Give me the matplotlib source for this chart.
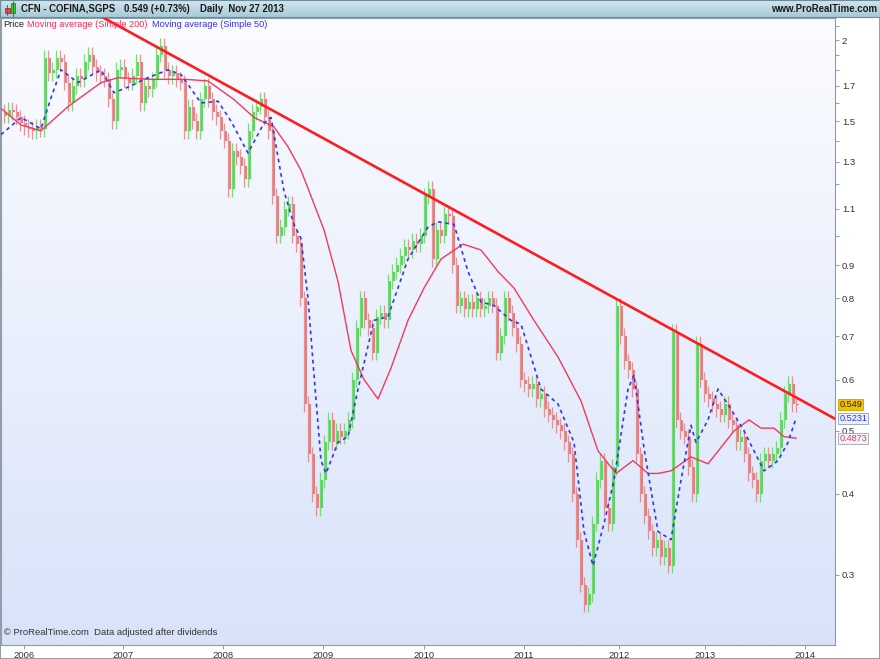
import numpy as np
import matplotlib
matplotlib.use("Agg")
import matplotlib.pyplot as plt
from matplotlib.colors import LinearSegmentedColormap
from matplotlib.patches import Rectangle
from matplotlib.ticker import FixedLocator, NullFormatter

plt.rcParams['font.family'] = ['Liberation Sans', 'DejaVu Sans']

# closing price, one sample every ~2 weeks (x = bar index)
close = [
    1.55, 1.53, 1.56, 1.55, 1.52, 1.49, 1.47, 1.46, 1.45, 1.47,
    1.46, 1.88, 1.78, 1.80, 1.88, 1.85, 1.72, 1.60, 1.70, 1.76,
    1.74, 1.85, 1.90, 1.82, 1.78, 1.76, 1.74, 1.62, 1.50, 1.80,
    1.82, 1.74, 1.72, 1.76, 1.85, 1.60, 1.70, 1.68, 1.74, 1.90,
    1.96, 1.80, 1.76, 1.78, 1.74, 1.72, 1.45, 1.58, 1.50, 1.45,
    1.62, 1.70, 1.62, 1.55, 1.52, 1.45, 1.40, 1.18, 1.35, 1.32,
    1.28, 1.22, 1.45, 1.55, 1.58, 1.62, 1.52, 1.45, 1.15, 1.00,
    1.03, 1.10, 1.12, 1.00, 0.97, 0.80, 0.55, 0.46, 0.40, 0.38,
    0.42, 0.48, 0.52, 0.48, 0.50, 0.49, 0.50, 0.52, 0.60, 0.72,
    0.80, 0.74, 0.72, 0.66, 0.75, 0.76, 0.74, 0.85, 0.88, 0.90,
    0.93, 0.96, 0.95, 0.98, 0.97, 1.00, 1.15, 1.18, 0.92, 1.02,
    1.00, 1.08, 1.07, 0.90, 0.78, 0.80, 0.77, 0.79, 0.77, 0.80,
    0.77, 0.78, 0.80, 0.78, 0.66, 0.70, 0.80, 0.76, 0.72, 0.68,
    0.60, 0.59, 0.58, 0.59, 0.56, 0.57, 0.54, 0.53, 0.52, 0.51,
    0.50, 0.48, 0.46, 0.40, 0.34, 0.29, 0.27, 0.28, 0.36, 0.42,
    0.45, 0.38, 0.36, 0.44, 0.78, 0.70, 0.64, 0.62, 0.58, 0.46,
    0.40, 0.37, 0.35, 0.33, 0.34, 0.32, 0.33, 0.31, 0.71, 0.52,
    0.50, 0.49, 0.44, 0.40, 0.68, 0.60, 0.57, 0.56, 0.55, 0.54,
    0.53, 0.55, 0.52, 0.51, 0.48, 0.49, 0.46, 0.43, 0.42, 0.40,
    0.45, 0.46, 0.45, 0.46, 0.47, 0.52, 0.57, 0.59, 0.55, 0.549,
]

# moving averages (bar index, value)
ma200_x = [0, 5, 10, 16.75, 25, 29.25, 37.5, 46.25, 51.75, 58.25, 63.25, 68.25,
           71.75, 75, 77.5, 80.75, 84.25, 87.5, 90.75, 94.25, 97.5, 101.75,
           105.75, 110, 115.5, 120, 124.25, 128.25, 133.25, 139.25, 145, 149.25,
           153.75, 158, 161.75, 164.25, 167.5, 172.5, 176.75, 183.25, 187, 190,
           193.25, 195.75, 198.75]
ma200_y = [1.57, 1.48, 1.45, 1.58, 1.72, 1.75, 1.74, 1.74, 1.73, 1.62, 1.52, 1.47,
           1.37, 1.26, 1.15, 1.02, 0.85, 0.665, 0.60, 0.56, 0.625, 0.74,
           0.83, 0.92, 0.97, 0.95, 0.88, 0.83, 0.74, 0.65, 0.556, 0.466,
           0.43, 0.45, 0.43, 0.43, 0.434, 0.456, 0.445, 0.50, 0.52, 0.505,
           0.505, 0.49, 0.4873]

ma50_x = [0, 5, 10, 12.5, 15, 19.25, 25, 28.25, 32.5, 35.75, 41.75, 45, 50,
          54.25, 57.5, 61.75, 65.75, 67.5, 70.75, 73.25, 75, 76.75, 78.25, 80,
          81.25, 84.25, 86.75, 89.25, 93.25, 96.75, 101.75, 106.75, 109.25,
          113.25, 116.75, 120, 123.25, 127.5, 130, 135, 139.25, 143.25, 145.75,
          148, 150.75, 153.25, 156.75, 158.25, 160.75, 164.25, 167.5, 170,
          172.5, 173.75, 176.75, 179.25, 182.5, 185.75, 190.75, 194.25, 196.75,
          198.75]
ma50_y = [1.43, 1.52, 1.46, 1.63, 1.80, 1.72, 1.80, 1.66, 1.70, 1.74, 1.80, 1.77, 1.60,
          1.61, 1.50, 1.34, 1.49, 1.52, 1.17, 1.04, 0.99, 0.80, 0.61, 0.45,
          0.43, 0.48, 0.49, 0.58, 0.74, 0.75, 0.92, 1.03, 1.05,
          1.04, 0.88, 0.79, 0.78, 0.74, 0.73, 0.58, 0.55, 0.48, 0.35,
          0.31, 0.36, 0.42, 0.58, 0.61, 0.47, 0.35, 0.34, 0.42,
          0.51, 0.48, 0.52, 0.58, 0.54, 0.50, 0.434, 0.45, 0.48,
          0.5231]

# resistance line endpoints (bar index, price)
trend_x = [20, 212]
trend_y = [2.262, 0.508]

year_pos = [5.75, 30.5, 55.5, 80.5, 105.75, 130.75, 154.5, 176, 201]
year_labels = ['2006', '2007', '2008', '2009', '2010', '2011', '2012', '2013', '2014']

major_ticks = [0.3, 0.4, 0.5, 0.6, 0.7, 0.8, 0.9, 1.1, 1.3, 1.5, 1.7, 2.0]
major_labels = ['0.3', '0.4', '0.5', '0.6', '0.7', '0.8', '0.9', '1.1', '1.3', '1.5', '1.7', '2']
minor_ticks = [1.0, 1.2, 1.4, 1.6, 1.8, 1.9, 2.1]

W, H = 880, 659
WICK = 1.028  # drawn wick length, multiplicative

fig = plt.figure(figsize=(W / 100, H / 100), dpi=100)

def frac(x0, y0, x1, y1):
    # pixel box (top-left origin) -> figure fraction rect
    return [x0 / W, 1 - y1 / H, (x1 - x0) / W, (y1 - y0) / H]

# plot area background gradient
bg = fig.add_axes(frac(1, 18, 835, 645), zorder=0)
bg.imshow(np.linspace(0, 1, 256).reshape(-1, 1), aspect='auto',
          cmap=LinearSegmentedColormap.from_list('bg', ['#fbfcff', '#d8e3fa']),
          extent=[0, 1, 0, 1])
bg.axis('off')

ax = fig.add_axes(frac(1, 18, 835, 645), zorder=1)
ax.set_facecolor('none')

x = np.arange(len(close))
c = np.array(close)
o = np.r_[c[0], c[:-1]]
lo = np.minimum(o, c)
hi = np.maximum(o, c)
cols = np.where(c >= o, '#52d152', '#e27474')
ax.vlines(x - 0.25, lo / WICK, hi * WICK, colors=cols, lw=0.9, alpha=0.75, zorder=2)
ax.vlines(x + 0.25, lo, hi, colors=cols, lw=1.3, zorder=2)

ax.plot(ma200_x, ma200_y, color='#f03a5f', lw=1.0, zorder=3)
ax.plot(ma50_x, ma50_y, color='#3535f0', lw=1.2, ls=(0, (2.2, 2.2)), zorder=3)
ax.plot(trend_x, trend_y, color='#ff1c1c', lw=1.9, zorder=4, solid_capstyle='butt')

ax.set_yscale('log')
ax.set_xlim(0, 208.5)
ax.set_ylim(0.234, 2.163)

ax.yaxis.tick_right()
ax.yaxis.set_major_locator(FixedLocator(major_ticks))
ax.set_yticklabels(major_labels)
ax.yaxis.set_minor_locator(FixedLocator(minor_ticks))
ax.yaxis.set_minor_formatter(NullFormatter())
ax.set_xticks(year_pos)
ax.set_xticklabels(year_labels)
ax.tick_params(axis='both', which='both', direction='out', length=3, width=0.6,
               color='#7d8d9c', labelsize=6.8, labelcolor='#333333', pad=2)
ax.tick_params(axis='x', pad=1.5)
for s in ax.spines.values():
    s.set_color('#8c9cab')
    s.set_linewidth(0.8)

# last value boxes
tr = ax.get_yaxis_transform()
box = dict(transform=tr, fontsize=6.6, va='center', ha='left', zorder=6, clip_on=False)
ax.text(1.005, 0.549, '0.549', color='#222222',
        bbox=dict(boxstyle='square,pad=0.12', fc='#f2c200', ec='#c9a000', lw=0.6), **box)
ax.text(1.005, 0.5231, '0.5231', color='#2b2bff',
        bbox=dict(boxstyle='square,pad=0.12', fc='#eef2ff', ec='#8f9fc8', lw=0.6), **box)
ax.text(1.005, 0.4873, '0.4873', color='#f03a5f',
        bbox=dict(boxstyle='square,pad=0.12', fc='#f6f3f8', ec='#9aa6b8', lw=0.6), **box)

ax.text(0.003, 0.012, '\u00a9 ProRealTime.com  Data adjusted after dividends',
        transform=ax.transAxes, fontsize=6.8, color='#333333', va='bottom', ha='left')

# header bar
hd = fig.add_axes(frac(0, 0, 880, 17), zorder=2)
hd.imshow(np.linspace(0, 1, 64).reshape(-1, 1), aspect='auto',
          cmap=LinearSegmentedColormap.from_list('hd', ['#d3e6ee', '#a8c9d8']),
          extent=[0, 880, 17, 0])
hd.set_xlim(0, 880)
hd.set_ylim(17, 0)
hd.set_xticks([])
hd.set_yticks([])
for s in hd.spines.values():
    s.set_color('#6f8c99')
    s.set_linewidth(0.8)
# small candle icon
hd.plot([7, 7], [5, 15], color='#b03030', lw=0.6)
hd.add_patch(Rectangle((5, 8), 4.5, 5, fc='#e05050', ec='#902020', lw=0.5))
hd.plot([12.5, 12.5], [1, 16], color='#208020', lw=0.6)
hd.add_patch(Rectangle((10.5, 3), 4.5, 10, fc='#40c040', ec='#1a701a', lw=0.5))
hfs = 6.9
hd.text(21, 8.7, 'CFN - COFINA,SGPS', fontsize=hfs, fontweight='bold', color='#1a1a1a', va='center')
hd.text(124, 8.7, '0.549 (+0.73%)', fontsize=hfs, fontweight='bold', color='#1a1a1a', va='center')
hd.text(200, 8.7, 'Daily  Nov 27 2013', fontsize=hfs, fontweight='bold', color='#1a1a1a', va='center')
hd.text(877, 8.7, 'www.ProRealTime.com', fontsize=hfs, fontweight='bold', color='#1a1a1a',
        va='center', ha='right')

# legend line
ly = 1 - 24.5 / H
lfs = 6.6
fig.text(3 / W, ly, 'Price', fontsize=lfs, color='#222222', va='center', zorder=5)
fig.text(27 / W, ly, 'Moving average (Simple 200)', fontsize=lfs, color='#ff2a55', va='center', zorder=5)
fig.text(152 / W, ly, 'Moving average (Simple 50)', fontsize=lfs, color='#3030ff', va='center', zorder=5)

# outer border
fig.patches.append(Rectangle((0, 0), 1, 1, transform=fig.transFigure, fill=False,
                             ec='#7d8d9c', lw=1.2))

fig.savefig('out.png', dpi=100)
